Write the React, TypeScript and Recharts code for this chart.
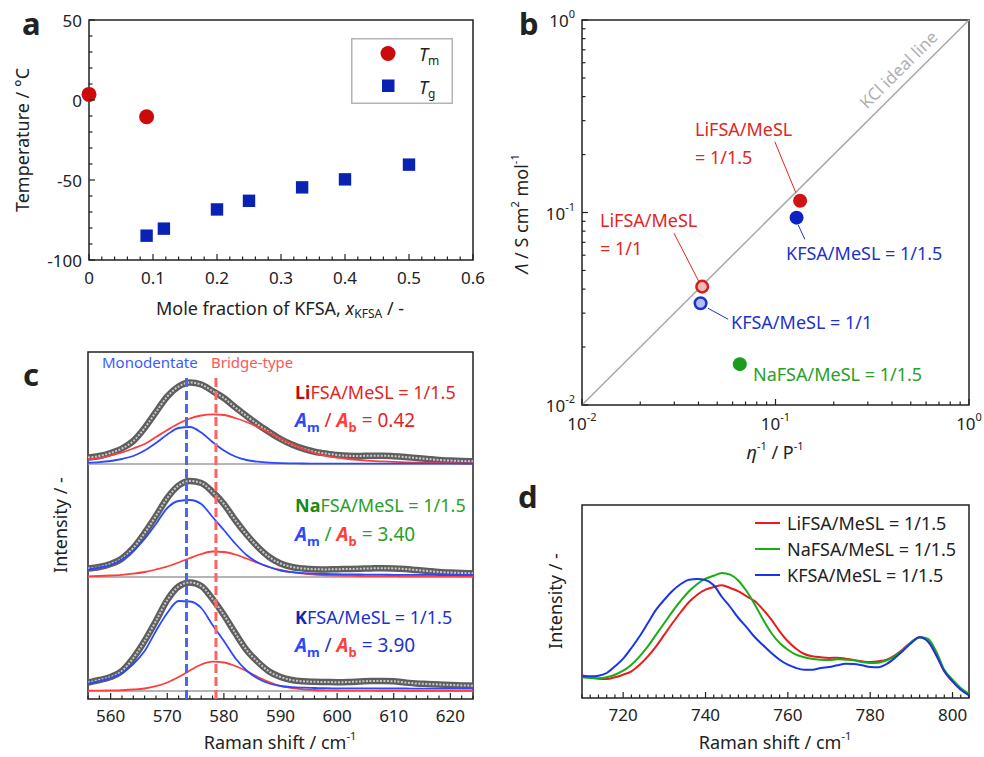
import React from "react";
import {
  ScatterChart,
  Scatter,
  LineChart,
  Line,
  XAxis,
  YAxis,
  ReferenceLine,
  ReferenceArea,
  Legend,
} from "recharts";

const FONT = '"Noto Sans", "Open Sans", sans-serif';
const INK = "#222";

// ---- a: phase transition temperatures vs KFSA mole fraction ----
const tmFraction = [0, 0.09];
const tmTemp = [3.5, -10.5];
const tgFraction = [0.09, 0.117, 0.2, 0.25, 0.333, 0.4, 0.5];
const tgTemp = [-84.8, -80.4, -68.4, -63, -54.6, -49.6, -40.4];
const aXLabels = [0, 0.1, 0.2, 0.3, 0.4, 0.5, 0.6];
const aXTicks = [
  0, 0.02, 0.04, 0.06, 0.08, 0.1, 0.12, 0.14, 0.16, 0.18, 0.2, 0.22, 0.24, 0.26, 0.28, 0.3,
  0.32, 0.34, 0.36, 0.38, 0.4, 0.42, 0.44, 0.46, 0.48, 0.5, 0.52, 0.54, 0.56, 0.58, 0.6,
];
const aYLabels = [-100, -50, 0, 50];
const aYTicks = [-100, -90, -80, -70, -60, -50, -40, -30, -20, -10, 0, 10, 20, 30, 40, 50];

// ---- b: Walden plot ----
const bSamples = ["Li 1/1.5", "K 1/1.5", "Li 1/1", "K 1/1", "Na 1/1.5"];
const bInvViscosity = [0.134, 0.1285, 0.0418, 0.041, 0.0654];
const bMolarCond = [0.115, 0.094, 0.0412, 0.0338, 0.0163];
const bDecades = [0.01, 0.1, 1];
const bDecadeLabels = ["-2", "-1", "0"];
const bTicks = [
  0.01, 0.02, 0.03, 0.04, 0.05, 0.06, 0.07, 0.08, 0.09, 0.1, 0.2, 0.3, 0.4, 0.5, 0.6, 0.7,
  0.8, 0.9, 1,
];

// ---- c: S-N-S bending band with monodentate / bridge fits ----
const cShift = [
  556, 558, 560, 562, 564, 566, 568, 570, 572, 574, 576, 578, 580, 582, 584, 586, 588, 590,
  592, 594, 596, 598, 600, 602, 604, 606, 608, 610, 612, 614, 616, 618, 620, 622, 624,
];
const cLabels = [560, 570, 580, 590, 600, 610, 620];
const liExp = [
  6.5, 8, 11, 15.5, 23, 36, 52, 67.5, 77.5, 81.5, 79.5, 73, 66, 56.7, 48, 39.5, 32, 25, 19.5,
  15.3, 12.3, 10.5, 9, 8.2, 8, 8.3, 8.3, 7.8, 7, 6, 5, 4, 3.4, 3, 2.7,
];
const liMono = [
  1.1, 1.8, 3, 5, 8, 13.5, 21, 29.5, 36, 37, 31.5, 22, 13.5, 7.5, 4, 2.3, 1.4, 0.9, 0.6, 0.5,
  0.4, 0.4, 0.4, 0.3, 0.3, 0.3, 0.3, 0.3, 0.3, 0.3, 0.3, 0.3, 0.3, 0.3, 0.3,
];
const liBridge = [
  4.7, 6, 8.5, 11.5, 15.5, 20, 27, 34, 40.5, 45.5, 48.5, 49.7, 49, 46, 42, 37, 31.5, 25.5, 20,
  15, 11, 8.2, 6.3, 5, 4, 3.2, 2.6, 2.1, 1.7, 1.4, 1.2, 1, 0.8, 0.7, 0.6,
];
const naExp = [
  8.5, 10, 13, 18.5, 29, 44, 61, 79, 91.5, 96, 94, 85, 73, 57, 42.5, 30, 20, 13.5, 10, 8.5,
  7.8, 7.6, 7.8, 8, 8.3, 8.6, 8.8, 8.6, 8, 7, 6, 5, 4.4, 4, 3.7,
];
const naMono = [
  7.3, 9.5, 12, 17.5, 26, 38, 53, 69, 76, 77, 73, 60, 47, 33.5, 22, 14.5, 10, 6.5, 4.8, 3.8,
  3.3, 3, 2.8, 2.6, 2.5, 2.4, 2.3, 2.2, 2.2, 2.1, 2.1, 2, 2, 2, 2,
];
const naBridge = [
  0.7, 1, 1.5, 2.2, 3.3, 5, 7.5, 10.5, 14.5, 19, 23, 25.5, 25, 22.5, 18.5, 14, 10, 7, 4.8,
  3.3, 2.3, 1.7, 1.3, 1.1, 1, 0.9, 0.8, 0.8, 0.7, 0.7, 0.6, 0.6, 0.6, 0.5, 0.5,
];
const kExp = [
  8.5, 11, 14, 20, 33, 50, 70, 91, 104.5, 108.5, 105, 92, 76, 58, 41, 29, 19.5, 14, 11, 9.7,
  9.2, 9, 8.8, 9, 9.5, 10, 10, 9.7, 8.5, 7.5, 7, 6.5, 6, 5.6, 5.3,
];
const kMono = [
  7.5, 10, 13, 18, 27, 40, 60, 78, 90, 89.5, 83, 66, 50, 33, 20.5, 12.5, 7.5, 5, 3.8, 3.3, 3,
  2.8, 2.7, 2.7, 2.6, 2.6, 2.5, 2.5, 2.5, 2.4, 2.4, 2.4, 2.4, 2.4, 2.4,
];
const kBridge = [
  0.3, 0.4, 0.6, 0.9, 1.5, 2.5, 4.8, 8.5, 14, 20.5, 26.5, 29.3, 28.5, 25, 20, 14, 9, 5, 2.8,
  1.6, 1, 0.7, 0.5, 0.4, 0.3, 0.3, 0.2, 0.2, 0.2, 0.2, 0.2, 0.2, 0.2, 0.2, 0.2,
];
const cOffsets = { li: 235, na: 122, k: 8 };
const monoPeak = 573.4;
const bridgePeak = 578.6;

// ---- d: S-O / S-N-S stretching region ----
const dShift = [
  710, 712, 714, 716, 718, 720, 722, 724, 726, 728, 730, 732, 734, 736, 738, 740, 742, 744,
  746, 748, 750, 752, 754, 756, 758, 760, 762, 764, 766, 768, 770, 772, 774, 776, 778, 780,
  782, 784, 786, 788, 790, 792, 794, 796, 798, 800, 802, 804,
];
const dLabels = [720, 740, 760, 780, 800];
const liRaman = [
  22.7, 20.7, 19.3, 19, 20.7, 23.3, 26.7, 33.3, 41.7, 51.7, 63.3, 75, 86, 96, 103.3, 108.3,
  111, 112.7, 110, 106.7, 101.7, 96.7, 88.3, 78.3, 66.7, 56.7, 49.3, 44, 41.7, 40.7, 40, 40.3,
  39.3, 38, 36.7, 36, 36.7, 38.3, 42.7, 49, 56, 60.7, 56.7, 43.3, 26.7, 16.7, 9, 3.3,
];
const naRaman = [
  20.7, 20, 19.7, 20.7, 23.3, 27.3, 33.3, 41.7, 51.7, 63.3, 75, 86.7, 97.3, 106.7, 114, 119.3,
  122.3, 125, 123.3, 117.3, 106.7, 93.3, 78.3, 65, 55, 48.3, 43.3, 40.7, 39, 38.3, 38, 38.7,
  38.3, 37.7, 36, 35, 35.3, 37.7, 41.7, 48.3, 56, 60.7, 59.3, 46.7, 28.3, 18.3, 10, 4.3,
];
const kRaman = [
  21.7, 21.7, 22.3, 25, 31.7, 39.3, 50, 61.7, 75, 88.3, 98.3, 107.3, 114, 118.3, 119, 118,
  112.7, 101, 91, 80, 70.7, 60.7, 52.7, 45, 38.3, 33.3, 30, 28.3, 28.3, 30, 31, 32.7, 34.3, 34,
  32.7, 31, 30.7, 34, 40, 47.3, 55, 60.7, 56.7, 43.3, 26.7, 16.7, 8.3, 2.7,
];
const dSeries = ["LiFSA/MeSL = 1/1.5", "NaFSA/MeSL = 1/1.5", "KFSA/MeSL = 1/1.5"];

// colours
const RED_A = "#cc0a0a";
const BLUE_A = "#0a22b4";
const T_RED = "#e0261f";
const T_BLUE = "#1c32cc";
const T_GREEN = "#27a027";
const FIT_BLUE = "#2a48ff";
const FIT_RED = "#ff3d3d";
const D_COLORS = ["#e81c1c", "#18ad18", "#1a35e6"];

const bStyle = [
  { fill: "#cf1414", stroke: "#cf1414", r: 7 },
  { fill: "#0d22c4", stroke: "#0d22c4", r: 7 },
  { fill: "#f6b7b7", stroke: "#d41c1c", r: 5.8 },
  { fill: "#b3bef2", stroke: "#1a32c8", r: 5.8 },
  { fill: "#1c9c1c", stroke: "#1c9c1c", r: 7 },
];

const tmData = tmFraction.map((x, i) => ({ x, y: tmTemp[i] }));
const tgData = tgFraction.map((x, i) => ({ x, y: tgTemp[i] }));

const cRows = cShift.map((shift, i) => ({
  shift,
  liExp: liExp[i] + cOffsets.li,
  liMono: liMono[i] + cOffsets.li,
  liBridge: liBridge[i] + cOffsets.li,
  naExp: naExp[i] + cOffsets.na,
  naMono: naMono[i] + cOffsets.na,
  naBridge: naBridge[i] + cOffsets.na,
  kExp: kExp[i] + cOffsets.k,
  kMono: kMono[i] + cOffsets.k,
  kBridge: kBridge[i] + cOffsets.k,
}));

const dRows = dShift.map((shift, i) => ({
  shift,
  li: liRaman[i],
  na: naRaman[i],
  k: kRaman[i],
}));

const isIn = (list: number[], v: number) => list.some((m) => Math.abs(m - v) < 1e-9);

type TickOpts = {
  edge: number;
  majors: number[];
  labelAt: number;
  fmt?: (v: number) => React.ReactNode;
};

// inward ticks drawn from the frame edge
function bottomTick(o: TickOpts) {
  return (p: any) => {
    const v = p.payload.value;
    const big = isIn(o.majors, v);
    return (
      <g>
        <line x1={p.x} x2={p.x} y1={o.edge} y2={o.edge - (big ? 6 : 3.5)} stroke={INK} strokeWidth={1.2} />
        {big && o.fmt && (
          <text x={p.x} y={o.labelAt} textAnchor="middle" dominantBaseline="central" fontSize={17} fontFamily={FONT} fill={INK}>
            {o.fmt(v)}
          </text>
        )}
      </g>
    );
  };
}

function leftTick(o: TickOpts) {
  return (p: any) => {
    const v = p.payload.value;
    const big = isIn(o.majors, v);
    return (
      <g>
        <line x1={o.edge} x2={o.edge + (big ? 6 : 3.5)} y1={p.y} y2={p.y} stroke={INK} strokeWidth={1.2} />
        {big && o.fmt && (
          <text x={o.labelAt} y={p.y} textAnchor="end" dominantBaseline="central" fontSize={17} fontFamily={FONT} fill={INK}>
            {o.fmt(v)}
          </text>
        )}
      </g>
    );
  };
}

const powerLabel = (v: number) => {
  const i = bDecades.findIndex((d) => Math.abs(d - v) < 1e-9);
  return (
    <>
      <tspan>10</tspan>
      <tspan dy={-7} fontSize={11}>
        {bDecadeLabels[i]}
      </tspan>
    </>
  );
};

const aLegend = () => (
  <svg width={102} height={66} style={{ display: "block" }}>
    <rect x={0.75} y={0.75} width={100.5} height={64.5} fill="#fff" stroke="#b4b4b4" strokeWidth={1.5} />
    <circle cx={37} cy={15.5} r={7.5} fill={RED_A} />
    <text x={68} y={23} fontSize={18} fontStyle="italic" fontFamily={FONT} fill={INK}>
      T<tspan fontStyle="normal" fontSize={12} dy={4}>m</tspan>
    </text>
    <rect x={31} y={41.5} width={12.5} height={12.5} fill={BLUE_A} />
    <text x={68} y={56} fontSize={18} fontStyle="italic" fontFamily={FONT} fill={INK}>
      T<tspan fontStyle="normal" fontSize={12} dy={4}>g</tspan>
    </text>
  </svg>
);

const dLegend = () => (
  <svg width={220} height={80} style={{ display: "block" }}>
    {dSeries.map((name, i) => (
      <g key={name}>
        <line x1={0} x2={25} y1={13 + i * 26} y2={13 + i * 26} stroke={D_COLORS[i]} strokeWidth={2} />
        <text x={32} y={13 + i * 26} dominantBaseline="central" fontSize={18} fontFamily={FONT} fill={INK}>
          {name}
        </text>
      </g>
    ))}
  </svg>
);

const sub = (t: string, color: string) => (
  <>
    <tspan fill={color} fontWeight="bold" fontStyle="italic">A</tspan>
    <tspan fill={color} fontWeight="bold" fontSize={13} dy={5}>{t}</tspan>
  </>
);

function RatioLabel({ y, value, color }: { y: number; value: string; color: string }) {
  return (
    <text x={295} y={y} fontSize={19} fontFamily={FONT}>
      {sub("m", FIT_BLUE)}
      <tspan dy={-5} fill={color}> / </tspan>
      {sub("b", FIT_RED)}
      <tspan dy={-5} fill={color}> = {value}</tspan>
    </text>
  );
}

export default function App() {
  return (
    <div style={{ position: "absolute", left: 0, top: 0, width: 984, height: 757, background: "#fff", fontFamily: FONT }}>
      {/* a */}
      <div style={{ position: "absolute", left: 0, top: 0 }}>
        <ScatterChart width={490} height={330} margin={{ top: 20, right: 17, bottom: 69, left: 88 }}>
          <XAxis type="number" dataKey="x" domain={[0, 0.6]} ticks={aXTicks} interval={0} height={1}
            axisLine={false} tickLine={false}
            tick={bottomTick({ edge: 260, majors: aXLabels, labelAt: 277, fmt: (v) => String(v) })} />
          <YAxis type="number" dataKey="y" domain={[-100, 50]} ticks={aYTicks} interval={0} width={1}
            axisLine={false} tickLine={false}
            tick={leftTick({ edge: 89, majors: aYLabels, labelAt: 82, fmt: (v) => String(v) })} />
          <ReferenceArea x1={0} x2={0.6} y1={-100} y2={50} fill="none" stroke={INK} strokeWidth={1.5} />
          <Scatter name="Tm" data={tmData} isAnimationActive={false}
            shape={(p: any) => <circle cx={p.cx} cy={p.cy} r={7.5} fill={RED_A} />} />
          <Scatter name="Tg" data={tgData} isAnimationActive={false}
            shape={(p: any) => <rect x={p.cx - 6.2} y={p.cy - 6.2} width={12.4} height={12.4} fill={BLUE_A} />} />
          <Legend layout="vertical" align="center" verticalAlign="middle" content={aLegend}
            wrapperStyle={{ left: 351, top: 38, width: 102, height: 66 }} />
        </ScatterChart>
      </div>

      {/* b */}
      <div style={{ position: "absolute", left: 490, top: 0 }}>
        <ScatterChart width={494} height={470} margin={{ top: 20, right: 15, bottom: 64, left: 91 }}>
          <XAxis type="number" dataKey="x" scale="log" domain={[0.01, 1]} ticks={bTicks} interval={0}
            height={1} axisLine={false} tickLine={false}
            tick={bottomTick({ edge: 405, majors: bDecades, labelAt: 423, fmt: powerLabel })} />
          <YAxis type="number" dataKey="y" scale="log" domain={[0.01, 1]} ticks={bTicks} interval={0}
            width={1} axisLine={false} tickLine={false}
            tick={leftTick({ edge: 92, majors: bDecades, labelAt: 85, fmt: powerLabel })} />
          <ReferenceArea x1={0.01} x2={1} y1={0.01} y2={1} fill="none" stroke={INK} strokeWidth={1.5} />
          <ReferenceLine segment={[{ x: 0.01, y: 0.01 }, { x: 1, y: 1 }]} stroke="#a8a8a8" strokeWidth={1.5} />
          <ReferenceLine segment={[{ x: 0.0992, y: 0.2332 }, { x: 0.1274, y: 0.1267 }]} stroke={T_RED} strokeWidth={1} />
          <ReferenceLine segment={[{ x: 0.0299, y: 0.078 }, { x: 0.0406, y: 0.0429 }]} stroke={T_RED} strokeWidth={1} />
          <ReferenceLine segment={[{ x: 0.131, y: 0.0861 }, { x: 0.1418, y: 0.0726 }]} stroke={T_BLUE} strokeWidth={1} />
          <ReferenceLine segment={[{ x: 0.0448, y: 0.0318 }, { x: 0.0569, y: 0.0279 }]} stroke={T_BLUE} strokeWidth={1} />
          {bSamples.map((s, i) => (
            <Scatter key={s} name={s} data={[{ x: bInvViscosity[i], y: bMolarCond[i] }]} isAnimationActive={false}
              shape={(p: any) => (
                <circle cx={p.cx} cy={p.cy} r={bStyle[i].r} fill={bStyle[i].fill} stroke={bStyle[i].stroke}
                  strokeWidth={bStyle[i].r < 7 ? 2.5 : 0} />
              )} />
          ))}
        </ScatterChart>
      </div>

      {/* c */}
      <div style={{ position: "absolute", left: 0, top: 340 }}>
        <LineChart width={490} height={417} data={cRows} margin={{ top: 12, right: 17, bottom: 57, left: 88 }}>
          <XAxis type="number" dataKey="shift" domain={[556, 624]} ticks={cShift} interval={0} height={1}
            allowDataOverflow axisLine={false} tickLine={false}
            tick={bottomTick({ edge: 359, majors: cLabels, labelAt: 375, fmt: (v) => String(v) })} />
          <YAxis type="number" domain={[0, 347]} width={0} hide allowDataOverflow />
          <ReferenceArea x1={556} x2={624} y1={0} y2={347} fill="none" stroke={INK} strokeWidth={1.5} />
          <ReferenceLine y={cOffsets.li} stroke="#9c9c9c" strokeWidth={1.5} />
          <ReferenceLine y={cOffsets.na} stroke="#9c9c9c" strokeWidth={1.5} />
          <ReferenceLine y={cOffsets.k} stroke="#9c9c9c" strokeWidth={1.5} />
          {["li", "na", "k"].map((s) => (
            <Line key={s + "o"} dataKey={s + "Exp"} type="monotone" stroke="#5e5e5e" strokeWidth={6.5}
              dot={false} isAnimationActive={false} />
          ))}
          {["li", "na", "k"].map((s) => (
            <Line key={s + "i"} dataKey={s + "Exp"} type="monotone" stroke="#c9c9c9" strokeWidth={2}
              strokeDasharray="2 1.5" dot={false} isAnimationActive={false} />
          ))}
          {["li", "na", "k"].map((s) => (
            <Line key={s + "b"} dataKey={s + "Bridge"} type="monotone" stroke={FIT_RED} strokeWidth={1.8}
              dot={false} isAnimationActive={false} />
          ))}
          {["li", "na", "k"].map((s) => (
            <Line key={s + "m"} dataKey={s + "Mono"} type="monotone" stroke={FIT_BLUE} strokeWidth={1.8}
              dot={false} isAnimationActive={false} />
          ))}
          <ReferenceLine segment={[{ x: monoPeak, y: 0 }, { x: monoPeak, y: 324 }]} stroke="#4d66f2"
            strokeWidth={3} strokeDasharray="9 4" />
          <ReferenceLine segment={[{ x: bridgePeak, y: 0 }, { x: bridgePeak, y: 324 }]} stroke="#ff6464"
            strokeWidth={3} strokeDasharray="9 4" />
        </LineChart>
      </div>

      {/* d */}
      <div style={{ position: "absolute", left: 490, top: 470 }}>
        <LineChart width={494} height={287} data={dRows} margin={{ top: 35, right: 15, bottom: 58, left: 92 }}>
          <XAxis type="number" dataKey="shift" domain={[710, 804]} ticks={dShift} interval={0} height={1}
            allowDataOverflow axisLine={false} tickLine={false}
            tick={bottomTick({ edge: 228, majors: dLabels, labelAt: 244, fmt: (v) => String(v) })} />
          <YAxis type="number" domain={[0, 193]} width={0} hide allowDataOverflow />
          <ReferenceArea x1={710} x2={804} y1={0} y2={193} fill="none" stroke={INK} strokeWidth={1.5} />
          <Line dataKey="li" name={dSeries[0]} type="monotone" stroke={D_COLORS[0]} strokeWidth={2} dot={false} isAnimationActive={false} />
          <Line dataKey="na" name={dSeries[1]} type="monotone" stroke={D_COLORS[1]} strokeWidth={2} dot={false} isAnimationActive={false} />
          <Line dataKey="k" name={dSeries[2]} type="monotone" stroke={D_COLORS[2]} strokeWidth={2} dot={false} isAnimationActive={false} />
          <Legend layout="vertical" align="center" verticalAlign="middle" content={dLegend}
            wrapperStyle={{ left: 265, top: 40, width: 220, height: 80 }} />
        </LineChart>
      </div>

      {/* titles and annotations */}
      <svg width={984} height={757} style={{ position: "absolute", left: 0, top: 0, pointerEvents: "none" }}
        fontFamily={FONT} fill={INK}>
        <text x={22} y={35} fontSize={31} fontWeight="bold">a</text>
        <text x={519} y={35} fontSize={31} fontWeight="bold">b</text>
        <text x={23} y={386} fontSize={31} fontWeight="bold">c</text>
        <text x={518} y={508} fontSize={31} fontWeight="bold">d</text>

        <text x={22} y={140} transform="rotate(-90 22 140)" textAnchor="middle" dominantBaseline="central" fontSize={18}>
          Temperature / °C
        </text>
        <text x={280} y={308} textAnchor="middle" dominantBaseline="central" fontSize={18}>
          Mole fraction of KFSA, <tspan fontStyle="italic">x</tspan>
          <tspan fontSize={12} dy={5}>KFSA</tspan>
          <tspan dy={-5}> / -</tspan>
        </text>

        <text x={521} y={214} transform="rotate(-90 521 214)" textAnchor="middle" dominantBaseline="central" fontSize={18}>
          <tspan fontStyle="italic">Λ</tspan> / S cm<tspan dy={-7} fontSize={11}>2</tspan>
          <tspan dy={7}> mol</tspan>
          <tspan dy={-7} fontSize={11}>-1</tspan>
        </text>
        <text x={775} y={452} textAnchor="middle" dominantBaseline="central" fontSize={18}>
          <tspan fontStyle="italic">η</tspan>
          <tspan dy={-7} fontSize={11}>-1</tspan>
          <tspan dy={7}> / P</tspan>
          <tspan dy={-7} fontSize={11}>-1</tspan>
        </text>
        <text x={903} y={74} transform="rotate(-44.9 903 74)" textAnchor="middle" fontSize={17} fill="#b0b0b0">
          KCl ideal line
        </text>
        <text x={695} y={136} fontSize={18} fill={T_RED}>LiFSA/MeSL</text>
        <text x={695} y={164} fontSize={18} fill={T_RED}>= 1/1.5</text>
        <text x={600} y={227} fontSize={18} fill={T_RED}>LiFSA/MeSL</text>
        <text x={600} y={255} fontSize={18} fill={T_RED}>= 1/1</text>
        <text x={786} y={260} fontSize={18} fill={T_BLUE}>KFSA/MeSL = 1/1.5</text>
        <text x={731} y={329} fontSize={18} fill={T_BLUE}>KFSA/MeSL = 1/1</text>
        <text x={753} y={381} fontSize={18} fill={T_GREEN}>NaFSA/MeSL = 1/1.5</text>

        <text x={102} y={368} fontSize={15} fill="#3b5bff">Monodentate</text>
        <text x={211} y={368} fontSize={15} fill="#ff5555">Bridge-type</text>
        <text x={295} y={399} fontSize={18} fill={T_RED}>
          <tspan fontWeight="bold" fill="#c40a0a">Li</tspan>FSA/MeSL = 1/1.5
        </text>
        <RatioLabel y={427} value="0.42" color={T_RED} />
        <text x={295} y={512} fontSize={18} fill={T_GREEN}>
          <tspan fontWeight="bold" fill="#178a17">Na</tspan>FSA/MeSL = 1/1.5
        </text>
        <RatioLabel y={541} value="3.40" color={T_GREEN} />
        <text x={295} y={624} fontSize={18} fill={T_BLUE}>
          <tspan fontWeight="bold" fill="#1424a8">K</tspan>FSA/MeSL = 1/1.5
        </text>
        <RatioLabel y={652} value="3.90" color={T_BLUE} />
        <text x={60} y={525} transform="rotate(-90 60 525)" textAnchor="middle" dominantBaseline="central" fontSize={18}>
          Intensity / -
        </text>
        <text x={280} y={742} textAnchor="middle" dominantBaseline="central" fontSize={18}>
          Raman shift / cm<tspan dy={-7} fontSize={11}>-1</tspan>
        </text>

        <text x={555} y={601} transform="rotate(-90 555 601)" textAnchor="middle" dominantBaseline="central" fontSize={18}>
          Intensity / -
        </text>
        <text x={775} y={742} textAnchor="middle" dominantBaseline="central" fontSize={18}>
          Raman shift / cm<tspan dy={-7} fontSize={11}>-1</tspan>
        </text>
      </svg>
    </div>
  );
}
